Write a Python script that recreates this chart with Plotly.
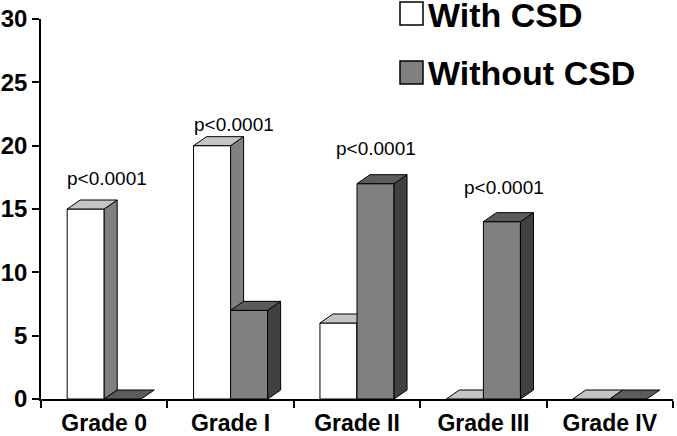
import plotly.graph_objects as go

# ---- data ----
categories = ["Grade 0", "Grade I", "Grade II", "Grade III", "Grade IV"]
with_csd = [15, 20, 6, 0, 0]
without_csd = [0, 7, 17, 14, 0]
series_names = ["With CSD", "Without CSD"]
y_ticks = [0, 5, 10, 15, 20, 25, 30]
p_text = ["p<0.0001", "p<0.0001", "p<0.0001", "p<0.0001"]
p_cat = [0, 1, 2, 3]

# ---- layout geometry ----
W, H = 677, 436
ML, MR, MT, MB = 41, 4, 19, 37
PW, PH = W - ML - MR, H - MT - MB
Y_MAX = 30
BAR_W = 0.293                      # category units
DX = 13 / (PW / len(categories))   # depth offset, category units
DY = 9 / (PH / Y_MAX)              # depth offset, value units
FONT = "Liberation Sans, Arial, sans-serif"

styles = [
    dict(front="#ffffff", top="#c4c4c4", side="#808080"),
    dict(front="#808080", top="#5c5c5c", side="#404040"),
]
# p-label placement offsets (category units / value units)
p_dx = [0.02, 0.025, 0.153, 0.166]
p_dy = [2.4, 1.7, 2.8, 2.7]

fig = go.Figure()


def poly(xs, ys, color):
    fig.add_trace(go.Scatter(
        x=xs + [xs[0]], y=ys + [ys[0]], mode="lines", fill="toself",
        fillcolor=color, line=dict(color="black", width=1),
        hoverinfo="skip", showlegend=False))


for i, cat in enumerate(categories):
    for s, vals in enumerate([with_csd, without_csd]):
        h = vals[i]
        st = styles[s]
        x0 = i - BAR_W + s * BAR_W
        x1 = x0 + BAR_W
        if h > 0:
            poly([x0, x1, x1, x0], [0, 0, h, h], st["front"])
            poly([x1, x1 + DX, x1 + DX, x1], [0, DY, h + DY, h], st["side"])
        poly([x0, x1, x1 + DX, x0 + DX], [h, h, h + DY, h + DY], st["top"])

annotations = []
for k, c in enumerate(p_cat):
    top = max(with_csd[c], without_csd[c])
    annotations.append(dict(
        x=c + p_dx[k], y=top + p_dy[k], xref="x", yref="y", text=p_text[k],
        showarrow=False, font=dict(family=FONT, size=19, color="black"),
        xanchor="center", yanchor="middle"))


def px(x):
    return (x - ML) / PW


def py(y):
    return (H - MB - y) / PH


shapes = []
legend_rows = [(2, 25), (61, 84)]
for s, (ya, yb) in enumerate(legend_rows):
    shapes.append(dict(type="rect", xref="paper", yref="paper",
                       x0=px(400), x1=px(423), y0=py(yb), y1=py(ya),
                       fillcolor=styles[s]["front"],
                       line=dict(color="black", width=1.5)))
    annotations.append(dict(
        x=px(426), y=py((ya + yb) / 2 + 1), xref="paper", yref="paper",
        text=series_names[s], showarrow=False, xanchor="left", yanchor="middle",
        font=dict(family=FONT, size=34, color="black", weight="bold")))

fig.update_layout(
    width=W, height=H, margin=dict(l=ML, r=MR, t=MT, b=MB),
    paper_bgcolor="white", plot_bgcolor="white", showlegend=False,
    annotations=annotations, shapes=shapes,
    xaxis=dict(range=[-0.5, len(categories) - 0.5], automargin=False,
               tickvals=list(range(len(categories))), ticktext=categories,
               ticks="", showline=True, linecolor="black", linewidth=1.5,
               showgrid=False, zeroline=False, ticklabelstandoff=3,
               tickfont=dict(family=FONT, size=23, color="black", weight="bold"),
               minor=dict(tickvals=[i - 0.5 for i in range(len(categories) + 1)],
                          ticks="outside", ticklen=7, tickwidth=1.5,
                          tickcolor="black", showgrid=False)),
    yaxis=dict(range=[0, Y_MAX], tickvals=y_ticks, ticks="outside", ticklen=7,
               tickwidth=1.5, tickcolor="black", showline=True, automargin=False,
               linecolor="black", linewidth=1.5, showgrid=False, zeroline=False,
               tickfont=dict(family=FONT, size=24, color="black", weight="bold")),
)

fig.write_html("out.html", config={"displayModeBar": False},
               post_script="document.body.style.margin='0';"
                           "document.body.style.overflow='hidden';")
